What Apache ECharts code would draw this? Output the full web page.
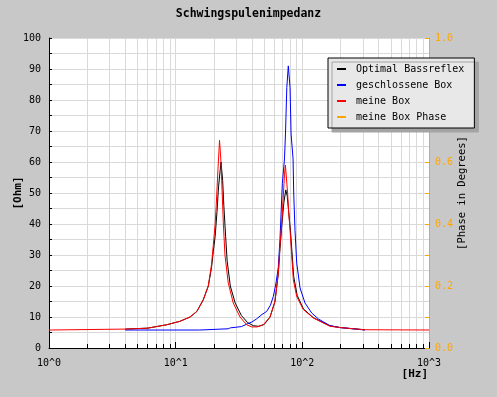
<!DOCTYPE html>
<html>
<head>
<meta charset="utf-8">
<script src="https://cdn.jsdelivr.net/npm/echarts@6/dist/echarts.min.js"></script>
<style>
  html, body { margin: 0; padding: 0; background: #c8c8c8; }
  #chart { width: 497px; height: 397px; }
</style>
</head>
<body>
<div id="chart"></div>
<script>
const redHz = [1, 4, 6, 8.5, 10.8, 13, 14.7, 16.5, 18.1, 19.2, 19.8, 20.5, 20.9, 21.6, 22.2, 22.8, 23.3, 23.8, 24.5, 26, 28.5, 32.2, 36.4, 39.8, 44, 49.2, 55.6, 60.8, 64.6, 66.6, 68.7, 71, 72.3, 73.5, 76.5, 78, 80, 84.9, 90.3, 101.8, 122, 137.8, 165, 198, 303, 1000]
const redOhm = [5.8, 6.1, 6.4, 7.5, 8.6, 10, 11.8, 15.5, 20, 27, 33, 40, 46, 58, 67, 60, 50, 40, 30, 21, 14.5, 10, 7.5, 6.8, 6.8, 7.5, 10, 15, 24, 33, 40, 50, 56, 59, 50, 44, 38, 22, 16.6, 12.4, 9.7, 8.6, 7.0, 6.6, 5.9, 5.8]

const blackHz = [4, 6, 8.5, 10.8, 13, 14.7, 16.5, 18.1, 19.2, 19.8, 20.5, 21.2, 21.8, 22.8, 23.5, 24, 24.8, 25.5, 27, 29.5, 33, 37, 41, 45, 50, 55.6, 60.8, 64.6, 66.6, 69, 71.5, 74, 76, 78, 80.5, 85.5, 91, 102, 122, 137.8, 165, 198, 312]
const blackOhm = [6.1, 6.4, 7.5, 8.6, 10, 11.8, 15.5, 20, 26, 31, 36, 44, 52, 60, 54, 46, 36, 28, 20, 14.5, 10.5, 8.2, 7.2, 7, 7.6, 10, 15, 24, 32, 40, 47, 51, 49, 44, 38, 23, 17, 12.6, 9.8, 8.7, 7.2, 6.6, 5.9]

const blueHz = [4, 15.5, 16, 26, 27, 33, 36.4, 40, 43.6, 48, 52.3, 56, 59, 62, 64.6, 66.6, 69.5, 72.3, 73.6, 75.4, 77.5, 79, 80, 81.5, 84.5, 85.5, 87.5, 90.3, 95.9, 105, 118.6, 133.6, 165, 198, 312]
const blueOhm = [5.8, 5.8, 6.1, 6.2, 6.5, 6.9, 7.7, 8.4, 9.4, 10.8, 11.8, 13.8, 16.6, 21, 26, 35, 53, 61, 69, 84, 91, 91, 84, 69, 61, 50, 38, 27.4, 19.4, 14.5, 11.3, 9.4, 7.2, 6.6, 5.8]

const phaseHz = []
const phaseVal = []

const seriesNames = ['Optimal Bassreflex', 'geschlossene Box', 'meine Box', 'meine Box Phase']
const decadeTicks = [1, 10, 100, 1000]
const minorTicks = [1, 2, 3, 4, 5, 6, 7, 8, 9, 10, 20, 30, 40, 50, 60, 70, 80, 90, 100, 200, 300, 400, 500, 600, 700, 800, 900, 1000]

const FONT = 'DejaVu Sans Mono'
const GRID_COLOR = '#d9d9d9'
const ORANGE = '#ffa500'

const pairs = (xs, ys) => xs.map((x, i) => [x, ys[i]])

const myChart = echarts.init(document.getElementById('chart'))

const lineSeries = (name, xs, ys, color, yAxisIndex = 0) => ({
  name,
  type: 'line',
  yAxisIndex,
  data: pairs(xs, ys),
  symbol: 'none',
  showSymbol: false,
  lineStyle: { color, width: 1 },
  itemStyle: { color },
})

const option = {
  backgroundColor: '#c8c8c8',
  animation: false,
  textStyle: { fontFamily: FONT },
  title: {
    text: 'Schwingspulenimpedanz',
    left: 'center',
    top: 3,
    textStyle: { fontFamily: FONT, fontSize: 11.5, fontWeight: 'bold', color: '#000' },
  },
  legend: {
    orient: 'vertical',
    left: 328,
    top: 58,
    padding: [5, 10, 5, 9],
    itemGap: 4,
    itemWidth: 9,
    itemHeight: 2,
    icon: 'rect',
    backgroundColor: '#e8e8e8',
    borderColor: '#000',
    borderWidth: 1,
    borderRadius: 0,
    shadowColor: '#a4a4a4',
    shadowOffsetX: 4,
    shadowOffsetY: 4,
    shadowBlur: 0,
    textStyle: { fontFamily: FONT, fontSize: 10, color: '#000', lineHeight: 12, padding: [0, 0, 0, 5] },
    data: seriesNames,
  },
  grid: {
    left: 49,
    right: 68,
    top: 38,
    bottom: 49,
    containLabel: false,
    outerBoundsMode: 'none',
    show: true,
    backgroundColor: '#fff',
    borderWidth: 0,
  },
  xAxis: [
    {
      type: 'log',
      logBase: 10,
      min: 1,
      max: 1000,
      position: 'bottom',
      name: '[Hz]',
      nameLocation: 'end',
      nameGap: 0,
      nameMoveOverlap: false,
      nameTextStyle: {
        fontFamily: FONT,
        fontSize: 11,
        fontWeight: 'bold',
        color: '#000',
        align: 'right',
        verticalAlign: 'top',
        padding: [21, 1, 0, 0],
      },
      axisLine: { show: true, lineStyle: { color: '#000' } },
      axisTick: { show: true, inside: true, length: 4, customValues: minorTicks, lineStyle: { color: '#000' } },
      axisLabel: {
        customValues: decadeTicks,
        formatter: (v) => '10^' + Math.round(Math.log10(v)),
        margin: 10,
        fontSize: 10,
        color: '#000',
      },
      splitLine: { show: true, lineStyle: { color: GRID_COLOR } },
    },
    {
      type: 'log',
      logBase: 10,
      min: 1,
      max: 1000,
      position: 'bottom',
      axisLine: { show: false },
      axisTick: { show: true, inside: true, length: 6, customValues: decadeTicks, lineStyle: { color: '#000' } },
      axisLabel: { show: false },
      splitLine: { show: false },
    },
  ],
  yAxis: [
    {
      type: 'value',
      min: 0,
      max: 100,
      interval: 5,
      position: 'left',
      name: '[Ohm]',
      nameLocation: 'middle',
      nameGap: 25,
      nameMoveOverlap: false,
      nameRotate: 90,
      nameTextStyle: { fontFamily: FONT, fontSize: 11, fontWeight: 'bold', color: '#000' },
      axisLine: { show: true, lineStyle: { color: '#000' } },
      axisTick: { show: true, inside: true, length: 3, lineStyle: { color: '#000' } },
      axisLabel: {
        margin: 8,
        fontSize: 10,
        color: '#000',
        formatter: (v) => (v % 10 === 0 ? String(v) : ''),
      },
      splitLine: { show: true, lineStyle: { color: GRID_COLOR } },
    },
    {
      type: 'value',
      min: 0,
      max: 1,
      interval: 0.1,
      position: 'right',
      name: '[Phase in Degrees]',
      nameLocation: 'middle',
      nameGap: 28,
      nameMoveOverlap: false,
      nameRotate: 90,
      nameTextStyle: { fontFamily: FONT, fontSize: 10.5, color: '#000' },
      axisLine: { show: true, lineStyle: { color: ORANGE } },
      axisTick: { show: true, inside: true, length: 4, lineStyle: { color: ORANGE } },
      axisLabel: {
        margin: 6,
        fontSize: 10,
        color: ORANGE,
        formatter: (v) => (Math.round(v * 10) % 2 === 0 ? v.toFixed(1) : ''),
      },
      splitLine: { show: false },
    },
  ],
  series: [
    lineSeries(seriesNames[0], blackHz, blackOhm, '#000'),
    lineSeries(seriesNames[1], blueHz, blueOhm, '#0000ff'),
    lineSeries(seriesNames[2], redHz, redOhm, '#ff0000'),
    lineSeries(seriesNames[3], phaseHz, phaseVal, ORANGE, 1),
  ],
}

myChart.setOption(option)
</script>
</body>
</html>
